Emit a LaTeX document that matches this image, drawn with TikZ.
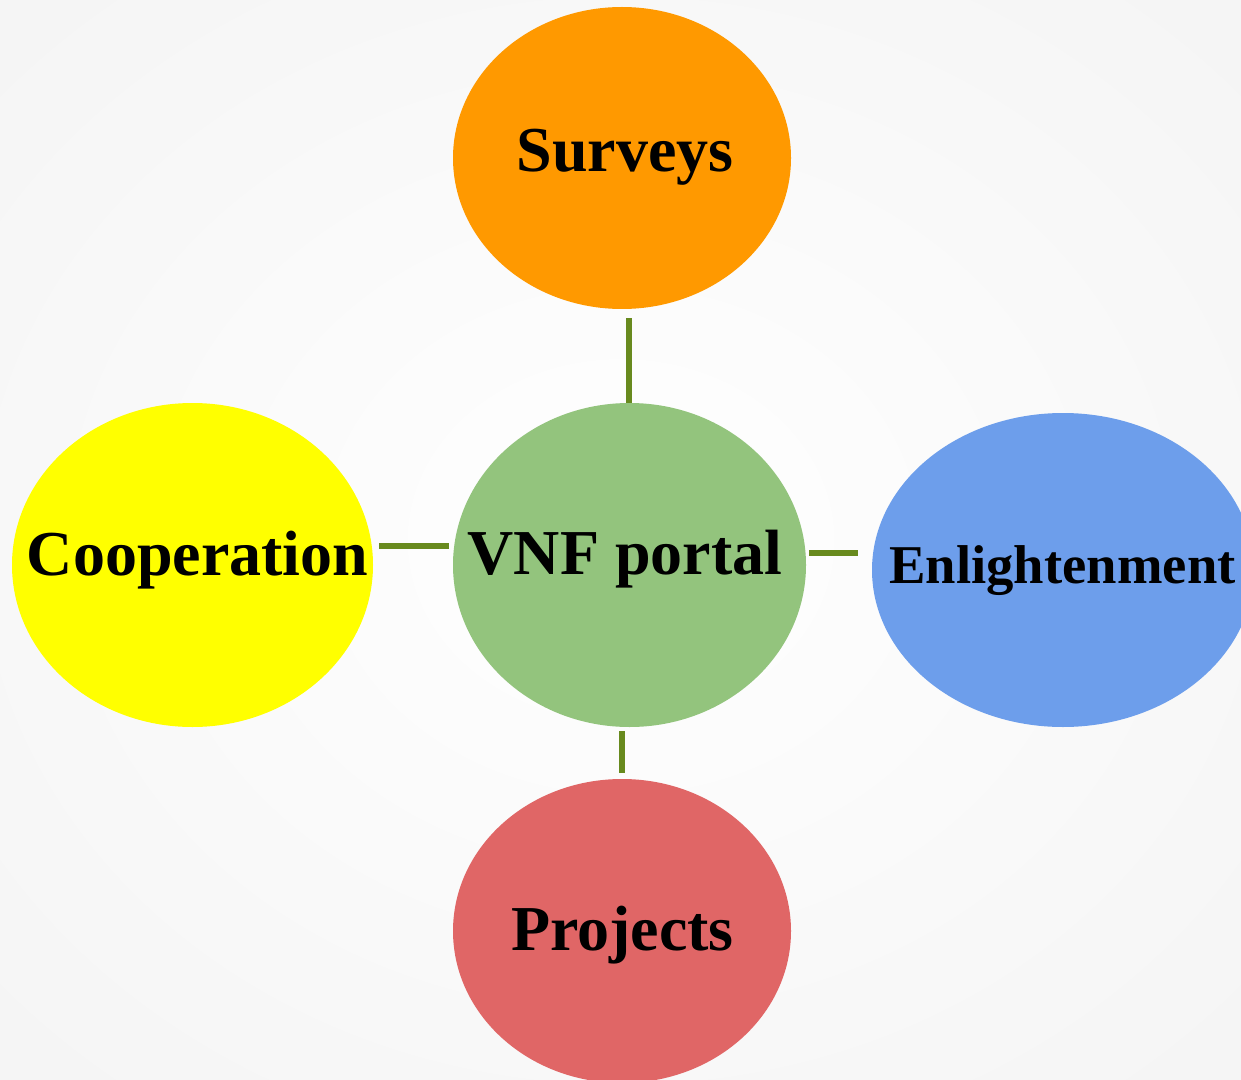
\documentclass[tikz,border=0pt]{standalone}
\usepackage{fontspec}
\setmainfont{Liberation Serif}
\usetikzlibrary{shapes.geometric}

\definecolor{survorange}{RGB}{255,153,0}
\definecolor{portalgreen}{RGB}{147,196,125}
\definecolor{coopyellow}{RGB}{255,255,0}
\definecolor{enlblue}{RGB}{109,158,235}
\definecolor{projred}{RGB}{224,102,102}
\definecolor{linkgreen}{RGB}{104,138,30}

\tikzset{every picture/.style={line width=0.75pt}}
\tikzset{
  bubble/.style={ellipse, inner sep=0pt, draw=none},
  bubbletext/.style={anchor=base, inner sep=0.75pt, font=\bfseries\fontsize{48}{54}\selectfont},
  link/.style={draw=linkgreen, line width=4.5pt}
}

\begin{document}
\begin{tikzpicture}[x=0.75pt,y=0.75pt,yscale=-1,xscale=1]
\useasboundingbox (0,0) rectangle (1241,1080);
\clip (0,0) rectangle (1241,1080);

%Background
\shade [inner color=white, outer color=black!4] (-250,-200) rectangle (1491,1280);

%Shape: Ellipses
\node (surveys) [bubble, fill=survorange, minimum width=253.5pt, minimum height=226.5pt] at (622,158) {};
\node (portal) [bubble, fill=portalgreen, minimum width=264.75pt, minimum height=243pt] at (629.5,565) {};
\node (coop) [bubble, fill=coopyellow, minimum width=270.75pt, minimum height=243pt] at (192.5,565) {};
\node (enl) [bubble, fill=enlblue, minimum width=286.5pt, minimum height=235.5pt] at (1063,570) {};
\node (proj) [bubble, fill=projred, minimum width=253.5pt, minimum height=228pt] at (622,931) {};

%Straight Lines
\coordinate (topend) at (629,318);
\coordinate (leftend) at (379,546);
\coordinate (leftstart) at (449,546);
\coordinate (rightstart) at (809,553);
\coordinate (rightend) at (858,553);
\coordinate (botstart) at (622,731);
\coordinate (botend) at (622,773);
\draw [link] (portal.north -| topend) -- (topend) ;
\draw [link] (leftstart) -- (leftend) ;
\draw [link] (rightstart) -- (rightend) ;
\draw [link] (botstart) -- (botend) ;

% Text Node
\node (surveys-t) [bubbletext] at (625,172) {Surveys};
% Text Node
\node (portal-t) [bubbletext] at (625,574) {VNF portal};
% Text Node
\node (coop-t) [bubbletext] at (197.5,575) {Cooperation};
% Text Node
\node (enl-t) [bubbletext, font=\bfseries\fontsize{41}{46}\selectfont] at (1062.5,583) {Enlightenment};
% Text Node
\node (proj-t) [bubbletext] at (622.5,950) {Projects};

\end{tikzpicture}
\end{document}
